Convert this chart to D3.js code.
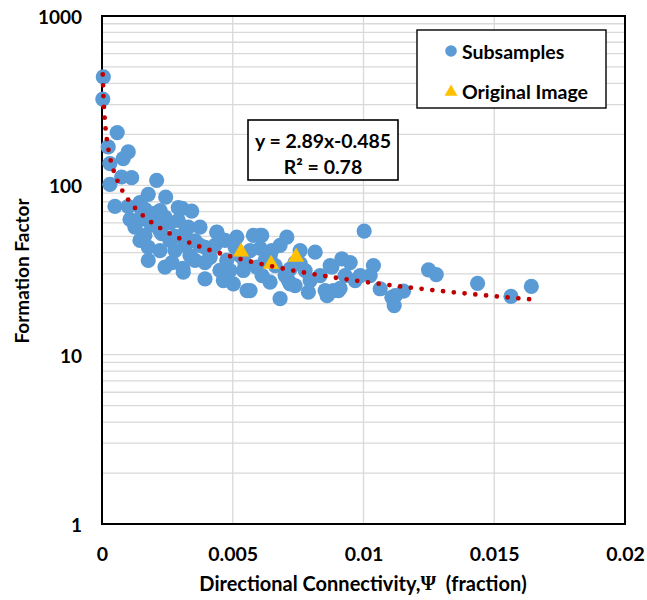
<!DOCTYPE html>
<html>
<head>
<meta charset="utf-8">
<script src="https://cdn.jsdelivr.net/npm/d3@7"></script>
<style>
  html, body { margin: 0; padding: 0; background: #fff; }
  svg { display: block; }
  text { font-family: Lato, "Open Sans", sans-serif; font-weight: bold; fill: #000; }
</style>
</head>
<body>
<svg id="chart" width="647" height="600"></svg>
<script>
// Directional connectivity (fraction) of each subsample
const subX = [
  0.00005, 0.00003, 0.000582, 0.000237, 0.001003, 0.000812, 0.000302, 0.00075, 0.001133, 0.000302,
  0.00209, 0.001769, 0.002435, 0.000494, 0.002917, 0.00343, 0.001386, 0.00196, 0.002408, 0.00126,
  0.001386, 0.001769, 0.001769, 0.002282, 0.002408, 0.003108, 0.003556, 0.00279, 0.003939, 0.0033,
  0.002917, 0.003748, 0.004387, 0.005152, 0.005788, 0.00611, 0.007067, 0.006492, 0.00464, 0.005022,
  0.005662, 0.006427, 0.00681, 0.007193, 0.00413, 0.00477, 0.005918, 0.005405, 0.00815, 0.009172,
  0.010025, 0.010381, 0.008789, 0.009681, 0.010638, 0.007893, 0.007128, 0.008532, 0.009042, 0.011086,
  0.010255, 0.011212, 0.01153, 0.011174, 0.012487, 0.012782, 0.014363, 0.015641, 0.016418, 0.00885,
  0.001642, 0.002025, 0.002599, 0.003173, 0.002216, 0.002676, 0.003365, 0.004322, 0.004705, 0.004896,
  0.005279, 0.005662, 0.006236, 0.006619, 0.00681, 0.007384, 0.007576, 0.007767, 0.007959, 0.008341,
  0.009298, 0.00949, 0.008609, 0.009107, 0.008724, 0.003097, 0.003059, 0.005547, 0.006045, 0.004398,
  0.009873, 0.001451, 0.001834, 0.001527, 0.003748, 0.003939, 0.006121, 0.007002, 0.007384,
  0.00100, 0.00145, 0.00165, 0.00222, 0.00260, 0.00318, 0.00356, 0.00394, 0.00279, 0.00222,
  0.00184, 0.00107, 0.00413, 0.00451, 0.00509, 0.00547, 0.00605, 0.00643, 0.00719, 0.00758
];
// Formation factor of each subsample
const subF = [
  437, 323, 205, 168.6, 157.4, 143.9, 134.4, 112, 111, 101.4,
  107, 88.5, 85.3, 75.1, 73.8, 70.5, 62.1, 68.0, 64.9, 56.6,
  76.2, 36.0, 43.1, 51.8, 32.9, 30.7, 36.0, 41.2, 28.0, 56.6,
  62.1, 56.6, 52.9, 49.4, 50.6, 50.6, 49.4, 41.2, 27.4, 26.2,
  23.9, 26.8, 21.4, 26.2, 37.7, 36.0, 32.9, 31.4, 40.3, 36.8,
  53.7, 33.6, 32.9, 27.4, 24.5, 23.4, 27.4, 23.9, 23.9, 21.8,
  29.3, 22.3, 23.7, 19.5, 31.7, 29.7, 26.4, 22.1, 25.3, 23.9,
  50.6, 58.0, 47.3, 44.2, 41.2, 35.0, 38.5, 44.2, 47.3, 31.4,
  38.5, 41.2, 36.0, 33.6, 44.2, 35.0, 41.2, 31.4, 27.4, 29.3,
  29.3, 35.0, 22.3, 24.6, 33.6, 32.3, 73.1, 23.9, 50.6, 52.7,
  29.3, 47.3, 66.4, 71.1, 44.2, 35.0, 29.3, 29.3, 25.6,
  75.0, 79.0, 72.0, 71.0, 60.0, 53.0, 47.0, 43.0, 50.0, 54.0,
  60.0, 63.0, 37.5, 31.5, 43.0, 34.5, 42.5, 38.0, 32.0, 34.5
];
// Values for the original (full) images
const origX = [0.005317, 0.006466, 0.007423];
const origF = [41.3, 35.0, 38.5];

// Power-law fit F = a * psi^b
const fitA = 2.89;
const fitB = -0.485;
const fitLabel = ["y = 2.89x-0.485", "R² = 0.78"];

const xTicks = [0, 0.005, 0.01, 0.015, 0.02];
const xTickLabels = ["0", "0.005", "0.01", "0.015", "0.02"];
const yTicks = [1, 10, 100, 1000];
const yTickLabels = ["1", "10", "100", "1000"];
const seriesNames = ["Subsamples", "Original Image"];

const blue = "#5B9BD5", gold = "#FFC000", red = "#C00000", grid = "#D9D9D9";

const svg = d3.select("#chart");
const plot = { left: 102, right: 625, top: 16, bottom: 524 };

const x = d3.scaleLinear().domain([0, 0.02]).range([plot.left, plot.right]);
const y = d3.scaleLog().domain([1, 1000]).range([plot.bottom, plot.top]);

// Grid: vertical lines at the x ticks, horizontal at every log step
const minorY = [];
for (let d = 1; d < 1000; d *= 10) for (let k = 1; k <= 10; k++) minorY.push(d * k);
const gridG = svg.append("g");
gridG.selectAll("line.h").data(Array.from(new Set(minorY))).join("line")
  .attr("x1", plot.left).attr("x2", plot.right)
  .attr("y1", d => y(d)).attr("y2", d => y(d))
  .attr("stroke", grid).attr("stroke-width", 1.3);
gridG.selectAll("line.v").data(xTicks.slice(1, -1)).join("line")
  .attr("x1", d => x(d)).attr("x2", d => x(d))
  .attr("y1", plot.top).attr("y2", plot.bottom)
  .attr("stroke", grid).attr("stroke-width", 1.3);

// Axes (labels only; frame drawn separately)
const xAxis = d3.axisBottom(x).tickValues(xTicks).tickFormat((d, i) => xTickLabels[i]).tickSize(0).tickPadding(0);
const gx = svg.append("g").attr("transform", `translate(0,${plot.bottom})`).call(xAxis);
gx.select(".domain").remove();
gx.selectAll("text").attr("dy", null).attr("y", 29).attr("dominant-baseline", "central")
  .style("font-size", "19.5px").style("font-family", "Lato, sans-serif").style("font-weight", "bold");

const yAxis = d3.axisLeft(y).tickValues(yTicks).tickFormat((d, i) => yTickLabels[i]).tickSize(0).tickPadding(0);
const gy = svg.append("g").attr("transform", `translate(${plot.left},0)`).call(yAxis);
gy.select(".domain").remove();
gy.selectAll("text").attr("dy", null).attr("x", -20).attr("dominant-baseline", "central")
  .style("font-size", "19px").style("font-family", "Lato, sans-serif").style("font-weight", "bold");

// Plot frame
svg.append("rect")
  .attr("x", plot.left).attr("y", plot.top)
  .attr("width", plot.right - plot.left).attr("height", plot.bottom - plot.top)
  .attr("fill", "none").attr("stroke", "#000").attr("stroke-width", 2);

// Subsample markers
svg.append("g").selectAll("circle").data(subX.map((v, i) => [v, subF[i]])).join("circle")
  .attr("cx", d => x(d[0])).attr("cy", d => y(d[1])).attr("r", 7.6)
  .attr("fill", blue);

// Original image markers
const tri = d3.symbol().type(d3.symbolTriangle).size(115);
svg.append("g").selectAll("path").data(origX.map((v, i) => [v, origF[i]])).join("path")
  .attr("d", tri)
  .attr("transform", d => `translate(${x(d[0])},${y(d[1]) + 1.5})`)
  .attr("fill", gold);

// Dotted power trendline across the subsample range
const xMin = d3.min(subX), xMax = d3.max(subX);
const fitPts = d3.range(0, 401).map(i => {
  const v = Math.exp(Math.log(xMin) + (Math.log(xMax) - Math.log(xMin)) * i / 400);
  return [v, fitA * Math.pow(v, fitB)];
});
svg.append("path")
  .datum(fitPts)
  .attr("d", d3.line().x(d => x(d[0])).y(d => y(d[1])))
  .attr("fill", "none").attr("stroke", red)
  .attr("stroke-width", 4.8).attr("stroke-linecap", "round")
  .attr("stroke-dasharray", "0 10.8");

// Legend
const lg = svg.append("g");
lg.append("rect").attr("x", 417).attr("y", 30).attr("width", 189).attr("height", 78)
  .attr("fill", "#fff").attr("stroke", "#000").attr("stroke-width", 1.4);
lg.append("circle").attr("cx", 451).attr("cy", 51).attr("r", 5.8).attr("fill", blue);
lg.append("path").attr("d", d3.symbol().type(d3.symbolTriangle).size(72))
  .attr("transform", "translate(451,92)").attr("fill", gold);
lg.selectAll("text").data(seriesNames).join("text")
  .attr("x", 462).attr("y", (d, i) => 51 + i * 40)
  .attr("dominant-baseline", "central")
  .style("font-size", "19.5px")
  .text(d => d);

// Fit equation box
const eq = svg.append("g");
eq.append("rect").attr("x", 248).attr("y", 120).attr("width", 150).attr("height", 60)
  .attr("fill", "#fff").attr("stroke", "#000").attr("stroke-width", 1.6);
eq.selectAll("text").data(fitLabel).join("text")
  .attr("x", 323).attr("y", (d, i) => 140 + i * 26)
  .attr("text-anchor", "middle").attr("dominant-baseline", "central")
  .style("font-size", "19.5px")
  .text(d => d);

// Axis titles
const xt = svg.append("text").attr("x", 363).attr("y", 583)
  .attr("text-anchor", "middle").attr("dominant-baseline", "central")
  .style("font-size", "20px").style("white-space", "pre");
xt.append("tspan").text("Directional Connectivity,");
xt.append("tspan").style("font-family", "'Liberation Serif', serif").text("Ψ");
xt.append("tspan").text("  (fraction)");

svg.append("text")
  .attr("transform", "translate(21,271) rotate(-90)")
  .attr("text-anchor", "middle").attr("dominant-baseline", "central")
  .style("font-size", "19px")
  .text("Formation Factor");
</script>
</body>
</html>
